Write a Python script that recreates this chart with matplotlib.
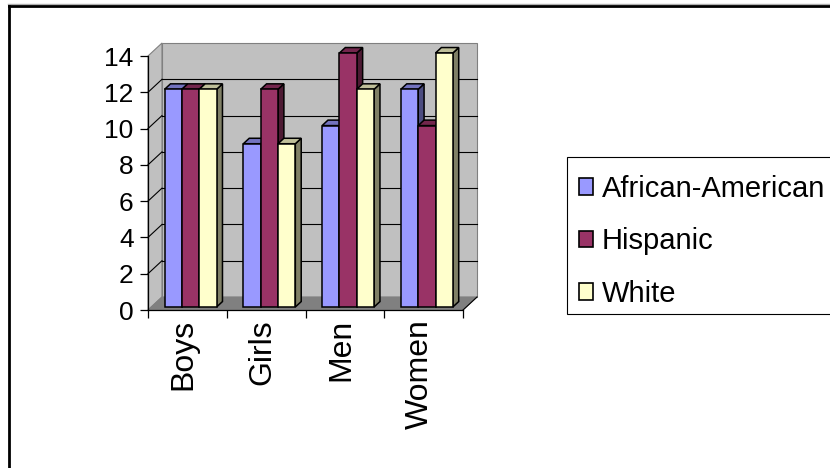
import matplotlib.pyplot as plt
from matplotlib.patches import Polygon, Patch, Rectangle
from matplotlib.lines import Line2D
from matplotlib.transforms import ScaledTranslation

categories = ['Boys', 'Girls', 'Men', 'Women']
series = ['African-American', 'Hispanic', 'White']
african_american = [12, 9, 10, 12]
hispanic = [12, 12, 14, 10]
white = [12, 9, 12, 14]
values = [african_american, hispanic, white]
y_ticks = [0, 2, 4, 6, 8, 10, 12, 14]

front_colors = ['#9999FF', '#993366', '#FFFFCC']
top_colors = ['#7373BF', '#73264D', '#BFBF99']
side_colors = ['#4D4D80', '#4D1A33', '#808066']

plt.rcParams['font.family'] = ['Liberation Sans', 'DejaVu Sans']

fig = plt.figure(figsize=(8.3, 4.68), dpi=100)
ax = fig.add_axes([148 / 830, 158 / 468, 315 / 830, 254 / 468])
n = len(categories)
ymax = y_ticks[-1]
ax.set_xlim(0, n)
ax.set_ylim(0, ymax)
ax.patch.set_visible(False)

# fake 3d: depth of the walls/floor in data units
DX, DY = 0.178, 0.717
# bars sit between these fractions of the depth
f0, f1 = 0.23, 0.65
bar_w = 0.22
gap = (1 - 3 * bar_w) / 2


def poly(pts, fc, ec, z, lw=0.8):
    ax.add_patch(Polygon(pts, closed=True, facecolor=fc, edgecolor=ec,
                         lw=lw, zorder=z, clip_on=False))


# walls and floor
poly([(0, 0), (0, ymax), (DX, ymax + DY), (DX, DY)], '#C0C0C0', '#808080', 1)
poly([(DX, DY), (n + DX, DY), (n + DX, ymax + DY), (DX, ymax + DY)], '#C0C0C0', '#808080', 1)
poly([(0, 0), (n, 0), (n + DX, DY), (DX, DY)], '#808080', '#808080', 1)
ax.plot([n, n + DX], [0, DY], color='black', lw=0.8, zorder=2, clip_on=False)

for v in y_ticks[1:-1]:
    ax.plot([DX, n + DX], [v + DY, v + DY], color='black', lw=0.8, zorder=2, clip_on=False)
    ax.plot([0, DX], [v, v + DY], color='black', lw=0.8, zorder=2, clip_on=False)

# bars, drawn left to right so the next front face hides the side face
z = 3
for i in range(n):
    for j in range(len(series)):
        v = values[j][i]
        x0 = i + gap + bar_w * j
        x1 = x0 + bar_w
        fx, fy = f0 * DX, f0 * DY
        bx, by = f1 * DX, f1 * DY
        poly([(x1 + fx, fy), (x1 + bx, by), (x1 + bx, v + by), (x1 + fx, v + fy)],
             side_colors[j], 'black', z, lw=1.1)
        poly([(x0 + fx, v + fy), (x1 + fx, v + fy), (x1 + bx, v + by), (x0 + bx, v + by)],
             top_colors[j], 'black', z, lw=1.1)
        poly([(x0 + fx, fy), (x1 + fx, fy), (x1 + fx, v + fy), (x0 + fx, v + fy)],
             front_colors[j], 'black', z, lw=1.1)
        z += 1

for s in ['top', 'right']:
    ax.spines[s].set_visible(False)
for s in ['left', 'bottom']:
    ax.spines[s].set_color('black')
    ax.spines[s].set_linewidth(0.9)
    ax.spines[s].set_zorder(50)

ax.set_yticks(y_ticks)
ax.tick_params(axis='y', length=5.8, width=0.9, pad=4.5, labelsize=19, direction='out')
ax.set_xticks(range(n + 1))
ax.set_xticklabels([])
ax.tick_params(axis='x', which='major', length=5.8, width=0.9, direction='out')
ax.set_xticks([i + 0.5 for i in range(n)], minor=True)
ax.set_xticklabels(categories, minor=True, rotation=90, fontsize=23)
ax.tick_params(axis='x', which='minor', length=0, pad=6.5)
shift = ScaledTranslation(-4 / 100, 0, fig.dpi_scale_trans)
for lbl in ax.get_xticklabels(minor=True):
    lbl.set_transform(lbl.get_transform() + shift)

# legend box runs off the right edge of the slide
fig.add_artist(Rectangle((567 / 830, 1 - 314 / 468), 280 / 830, 157 / 468,
                         facecolor='white', edgecolor='black', lw=0.8,
                         transform=fig.transFigure))
handles = [Patch(facecolor=c, edgecolor='black', lw=1.2) for c in front_colors]
leg = fig.legend(handles, series, loc='upper left',
                 bbox_to_anchor=(567 / 830, 1 - 163 / 468), fontsize=21,
                 frameon=False, handlelength=0.5, handleheight=0.5, handletextpad=0.3,
                 labelspacing=0.84, borderpad=0.4, borderaxespad=0)

# outer frame of the slide
fig.add_artist(Line2D([8 / 830, 1], [1 - 3.5 / 468, 1 - 3.5 / 468], color='#B0B0B0', lw=1,
                      transform=fig.transFigure))
fig.add_artist(Line2D([8.5 / 830, 1], [1 - 5.5 / 468, 1 - 5.5 / 468], color='black', lw=2,
                      transform=fig.transFigure))
fig.add_artist(Line2D([8.5 / 830, 8.5 / 830], [0, 1 - 5.5 / 468], color='black', lw=2,
                      transform=fig.transFigure))

fig.savefig('out.png', dpi=100)
